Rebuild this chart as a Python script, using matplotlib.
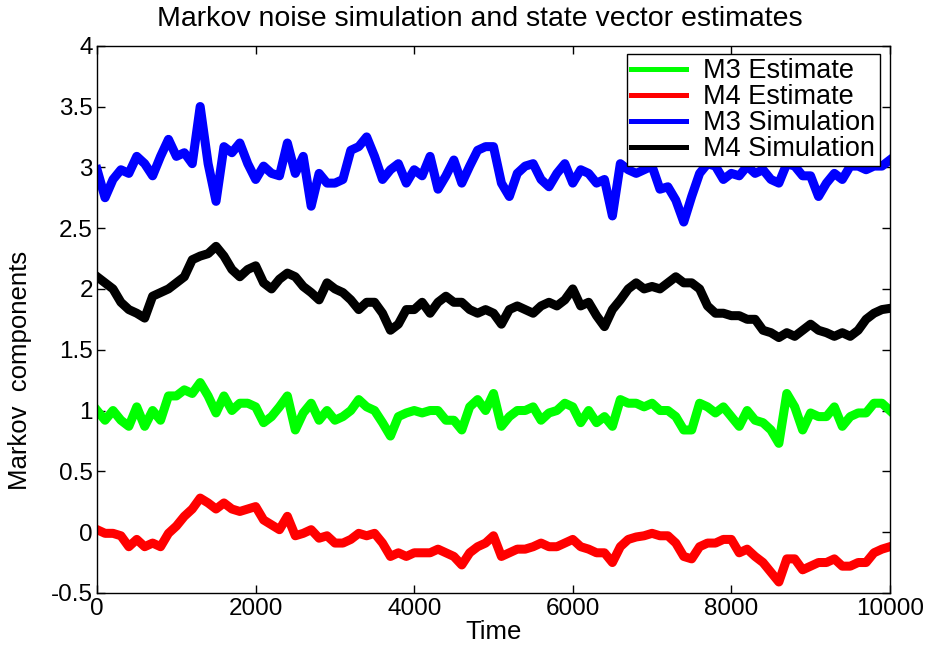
import matplotlib
matplotlib.use('Agg')
import matplotlib.pyplot as plt
import numpy as np

plt.rcParams['font.family'] = ['Liberation Sans', 'DejaVu Sans']

# %% data, every 100 time steps

time = np.arange(0, 10001, 100)

m3_sim = [2.98, 2.75, 2.90, 2.98, 2.95, 3.09, 3.03, 2.93, 3.09, 3.23,
          3.09, 3.12, 3.03, 3.50, 3.03, 2.72, 3.17, 3.12, 3.20, 3.03,
          2.90, 3.01, 2.95, 2.93, 3.20, 2.95, 3.09, 2.68, 2.95, 2.87,
          2.87, 2.90, 3.14, 3.17, 3.25, 3.09, 2.90, 2.98, 3.03, 2.87,
          2.98, 2.93, 3.09, 2.82, 2.93, 3.06, 2.87, 3.01, 3.14, 3.17,
          3.17, 2.87, 2.76, 2.95, 3.01, 3.03, 2.90, 2.84, 2.95, 3.03,
          2.87, 2.98, 2.95, 2.87, 2.90, 2.60, 3.03, 2.98, 2.95, 2.98,
          3.01, 2.82, 2.84, 2.73, 2.55, 2.76, 2.95, 3.03, 3.01, 2.90,
          2.95, 2.93, 3.01, 2.95, 2.98, 2.90, 2.87, 3.03, 3.01, 2.93,
          2.93, 2.76, 2.87, 2.95, 2.90, 3.01, 3.01, 2.98, 3.01, 3.01,
          3.06]

m4_sim = [2.10, 2.05, 2.00, 1.89, 1.83, 1.80, 1.76, 1.94, 1.97, 2.00,
          2.05, 2.10, 2.24, 2.27, 2.29, 2.35, 2.27, 2.16, 2.10, 2.16,
          2.19, 2.05, 2.00, 2.08, 2.13, 2.10, 2.02, 1.97, 1.91, 2.05,
          2.00, 1.97, 1.91, 1.83, 1.89, 1.89, 1.80, 1.66, 1.71, 1.83,
          1.83, 1.89, 1.80, 1.89, 1.94, 1.89, 1.89, 1.83, 1.80, 1.83,
          1.80, 1.71, 1.83, 1.86, 1.83, 1.80, 1.86, 1.89, 1.86, 1.91,
          2.00, 1.86, 1.89, 1.78, 1.69, 1.83, 1.91, 2.00, 2.05, 2.00,
          2.02, 2.00, 2.05, 2.10, 2.05, 2.05, 2.00, 1.86, 1.80, 1.80,
          1.78, 1.78, 1.75, 1.75, 1.66, 1.64, 1.60, 1.64, 1.61, 1.66,
          1.71, 1.66, 1.64, 1.61, 1.64, 1.61, 1.66, 1.75, 1.80, 1.83,
          1.84]

m3_est = [1.00, 0.92, 1.00, 0.92, 0.87, 1.03, 0.87, 1.00, 0.92, 1.12,
          1.12, 1.17, 1.14, 1.23, 1.12, 0.98, 1.12, 1.00, 1.06, 1.06,
          1.03, 0.90, 0.95, 1.03, 1.12, 0.84, 0.98, 1.06, 0.92, 1.00,
          0.92, 0.95, 1.00, 1.09, 1.03, 1.00, 0.90, 0.79, 0.95, 0.98,
          1.00, 0.98, 1.00, 1.00, 0.92, 0.92, 0.84, 1.03, 1.09, 1.00,
          1.14, 0.87, 0.95, 1.00, 1.00, 1.03, 0.92, 0.98, 1.00, 1.06,
          1.03, 0.90, 1.00, 0.90, 0.95, 0.87, 1.09, 1.06, 1.06, 1.03,
          1.06, 1.00, 1.00, 0.95, 0.84, 0.84, 1.06, 1.03, 0.98, 1.03,
          0.95, 0.87, 1.00, 0.92, 0.90, 0.84, 0.73, 1.14, 1.03, 0.84,
          0.98, 0.95, 0.95, 1.03, 0.87, 0.95, 0.98, 0.98, 1.06, 1.06,
          1.00]

m4_est = [0.02, -0.01, -0.01, -0.03, -0.12, -0.06, -0.12, -0.09, -0.12, -0.01,
          0.05, 0.13, 0.19, 0.28, 0.24, 0.19, 0.24, 0.19, 0.17, 0.19,
          0.21, 0.10, 0.06, 0.02, 0.13, -0.03, -0.01, 0.02, -0.05, -0.03,
          -0.09, -0.09, -0.06, -0.01, -0.03, -0.01, -0.09, -0.20, -0.17, -0.20,
          -0.17, -0.17, -0.17, -0.14, -0.17, -0.20, -0.27, -0.17, -0.12, -0.09,
          -0.03, -0.20, -0.17, -0.14, -0.14, -0.12, -0.09, -0.12, -0.12, -0.09,
          -0.06, -0.12, -0.14, -0.17, -0.17, -0.25, -0.12, -0.06, -0.04, -0.03,
          -0.01, -0.03, -0.03, -0.09, -0.20, -0.22, -0.12, -0.09, -0.09, -0.06,
          -0.06, -0.17, -0.14, -0.20, -0.25, -0.33, -0.41, -0.22, -0.22, -0.31,
          -0.28, -0.25, -0.25, -0.22, -0.28, -0.28, -0.25, -0.25, -0.17, -0.14,
          -0.12]

# %% plotting

fig = plt.figure(figsize=(9.25, 6.53), dpi=100)
ax = fig.add_axes([0.105, 0.092, 0.857, 0.838])

lw = 6.5
ax.plot(time, m3_est, color='#00ff00', linewidth=lw, label='M3 Estimate')
ax.plot(time, m4_est, color='#ff0000', linewidth=lw, label='M4 Estimate')
ax.plot(time, m3_sim, color='#0000ff', linewidth=lw, label='M3 Simulation')
ax.plot(time, m4_sim, color='#000000', linewidth=lw, label='M4 Simulation')

ax.set_xlim(0, 10000)
ax.set_ylim(-0.5, 4)
ax.set_xticks(np.arange(0, 10001, 2000))
ax.set_yticks(np.arange(-0.5, 4.01, 0.5))
ax.set_yticklabels(['-0.5', '0', '0.5', '1', '1.5', '2', '2.5', '3', '3.5', '4'])
ax.tick_params(direction='in', length=5.5, width=1, top=True, right=True,
               labelsize=17.5)
ax.tick_params(axis='x', pad=4)
ax.tick_params(axis='y', pad=3)
for s in ax.spines.values():
    s.set_linewidth(1)

ax.set_title('Markov noise simulation and state vector estimates',
             fontsize=20.5, pad=14, x=0.483)
ax.set_xlabel('Time', fontsize=18.5, labelpad=0)
ax.set_ylabel('Markov  components', fontsize=18.5)
ax.yaxis.set_label_coords(-0.082, 0.406)

leg = ax.legend(loc='upper right', bbox_to_anchor=(0.987, 0.985),
                borderaxespad=0, fontsize=19.5, fancybox=False,
                framealpha=1, edgecolor='black', handlelength=2.05,
                labelspacing=0, borderpad=0.15, handletextpad=0.63)
leg.get_frame().set_linewidth(1)
for h in leg.get_lines():
    h.set_linewidth(3.6)

fig.savefig('out.png', dpi=100)
